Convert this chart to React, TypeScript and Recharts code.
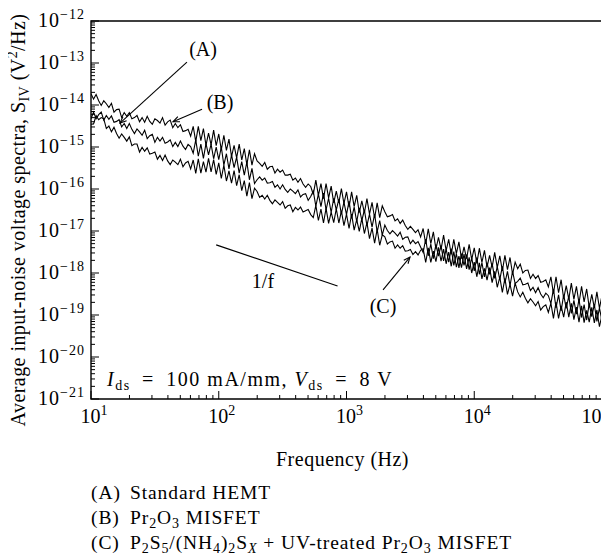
import { LineChart, Line, XAxis, YAxis, ReferenceArea, ReferenceLine, ReferenceDot } from 'recharts';

// log10 of frequency (Hz)
const freqLog = [
  1.0, 1.02, 1.04, 1.06, 1.08, 1.1, 1.12, 1.14, 1.16, 1.18,
  1.2, 1.22, 1.24, 1.26, 1.28, 1.3, 1.32, 1.34, 1.36, 1.38,
  1.4, 1.42, 1.44, 1.46, 1.48, 1.5, 1.52, 1.54, 1.56, 1.58,
  1.6, 1.62, 1.64, 1.66, 1.68, 1.7, 1.72, 1.74, 1.76, 1.78,
  1.8, 1.82, 1.84, 1.86, 1.88, 1.9, 1.92, 1.94, 1.96, 1.98,
  2.0, 2.02, 2.04, 2.06, 2.08, 2.1, 2.12, 2.14, 2.16, 2.18,
  2.2, 2.22, 2.24, 2.26, 2.28, 2.3, 2.32, 2.34, 2.36, 2.38,
  2.4, 2.42, 2.44, 2.46, 2.48, 2.5, 2.52, 2.54, 2.56, 2.58,
  2.6, 2.62, 2.64, 2.66, 2.68, 2.7, 2.72, 2.74, 2.76, 2.78,
  2.8, 2.82, 2.84, 2.86, 2.88, 2.9, 2.92, 2.94, 2.96, 2.98,
  3.0, 3.02, 3.04, 3.06, 3.08, 3.1, 3.12, 3.14, 3.16, 3.18,
  3.2, 3.22, 3.24, 3.26, 3.28, 3.3, 3.32, 3.34, 3.36, 3.38,
  3.4, 3.42, 3.44, 3.46, 3.48, 3.5, 3.52, 3.54, 3.56, 3.58,
  3.6, 3.62, 3.64, 3.66, 3.68, 3.7, 3.72, 3.74, 3.76, 3.78,
  3.8, 3.82, 3.84, 3.86, 3.88, 3.9, 3.92, 3.94, 3.96, 3.98,
  4.0, 4.02, 4.04, 4.06, 4.08, 4.1, 4.12, 4.14, 4.16, 4.18,
  4.2, 4.22, 4.24, 4.26, 4.28, 4.3, 4.32, 4.34, 4.36, 4.38,
  4.4, 4.42, 4.44, 4.46, 4.48, 4.5, 4.52, 4.54, 4.56, 4.58,
  4.6, 4.62, 4.64, 4.66, 4.68, 4.7, 4.72, 4.74, 4.76, 4.78,
  4.8, 4.82, 4.84, 4.86, 4.88, 4.9, 4.92, 4.94, 4.96, 4.98,
  5.0,
];

// log10 of S_IV (V^2/Hz), (A) Standard HEMT
const seriesA = [
  -14.33, -14.17, -14.33, -14.23, -14.17, -14.36, -14.25, -14.34, -14.26, -14.41,
  -14.39, -14.35, -14.52, -14.44, -14.56, -14.44, -14.58, -14.68, -14.57, -14.64,
  -14.72, -14.6, -14.8, -14.73, -14.7, -14.89, -14.77, -14.86, -14.77, -14.91,
  -14.88, -14.83, -14.99, -14.89, -14.99, -14.86, -14.98, -15.06, -14.94, -14.99,
  -15.15, -14.83, -15.22, -14.93, -15.27, -14.92, -15.19, -14.93, -15.28, -15.0,
  -15.3, -15.0, -15.43, -15.16, -15.52, -15.19, -15.49, -15.24, -15.62, -15.35,
  -15.67, -15.36, -15.78, -15.51, -15.87, -15.78, -15.71, -15.79, -15.74, -15.86,
  -15.85, -15.82, -15.96, -15.9, -16.0, -15.9, -16.01, -16.08, -16.0, -16.05,
  -16.11, -16.02, -16.19, -16.13, -16.11, -16.27, -16.18, -16.05, -16.41, -16.12,
  -16.42, -16.1, -16.5, -16.22, -16.56, -16.22, -16.5, -16.24, -16.6, -16.31,
  -16.61, -16.29, -16.7, -16.43, -16.78, -16.45, -16.75, -16.5, -16.87, -16.6,
  -16.91, -16.6, -17.02, -16.75, -17.1, -16.86, -16.99, -17.07, -16.99, -17.05,
  -17.12, -17.03, -17.2, -17.15, -17.14, -17.3, -17.22, -17.3, -17.25, -17.38,
  -17.51, -17.19, -17.59, -17.31, -17.66, -17.32, -17.6, -17.34, -17.71, -17.43,
  -17.74, -17.42, -17.82, -17.54, -17.88, -17.54, -17.82, -17.56, -17.92, -17.64,
  -17.95, -17.63, -18.03, -17.75, -18.09, -17.75, -18.03, -17.77, -18.13, -17.85,
  -18.16, -17.84, -18.24, -17.96, -18.3, -17.96, -18.25, -18.2, -18.12, -18.28,
  -18.27, -18.24, -18.42, -18.34, -18.47, -18.35, -18.5, -18.59, -18.48, -18.54,
  -18.73, -18.38, -18.83, -18.52, -18.9, -18.52, -18.84, -18.55, -18.96, -18.65,
  -18.98, -18.62, -19.06, -18.75, -19.12, -18.73, -19.04, -18.75, -19.15, -18.83,
  -19.15,
];

// (B) Pr2O3 MISFET
const seriesB = [
  -13.73, -13.86, -13.75, -13.9, -14.01, -13.9, -13.97, -14.06, -13.96, -14.17,
  -14.11, -14.1, -14.3, -14.18, -14.27, -14.18, -14.33, -14.3, -14.25, -14.4,
  -14.3, -14.41, -14.27, -14.39, -14.46, -14.33, -14.37, -14.43, -14.3, -14.48,
  -14.4, -14.36, -14.54, -14.44, -14.54, -14.47, -14.63, -14.61, -14.58, -14.74,
  -14.51, -14.87, -14.51, -14.85, -14.56, -14.96, -14.67, -14.95, -14.6, -14.97,
  -14.69, -15.07, -14.72, -15.08, -14.81, -15.23, -14.96, -15.26, -14.93, -15.31,
  -15.04, -15.42, -15.07, -15.43, -15.16, -15.33, -15.39, -15.46, -15.37, -15.53,
  -15.47, -15.46, -15.62, -15.53, -15.6, -15.55, -15.67, -15.67, -15.65, -15.79,
  -15.74, -15.84, -15.75, -15.88, -15.96, -15.88, -15.94, -16.13, -15.79, -16.15,
  -15.87, -16.23, -15.87, -16.21, -15.93, -16.33, -16.05, -16.33, -15.99, -16.35,
  -16.07, -16.43, -16.07, -16.42, -16.15, -16.56, -16.28, -16.57, -16.23, -16.6,
  -16.32, -16.69, -16.33, -16.68, -16.4, -16.54, -16.66, -16.64, -16.61, -16.76,
  -16.71, -16.82, -16.74, -16.87, -16.96, -16.89, -16.96, -17.04, -16.97, -17.14,
  -16.94, -17.31, -16.95, -17.3, -17.02, -17.43, -17.15, -17.44, -17.1, -17.47,
  -17.2, -17.56, -17.2, -17.54, -17.26, -17.66, -17.38, -17.66, -17.32, -17.68,
  -17.4, -17.77, -17.41, -17.75, -17.46, -17.86, -17.58, -17.86, -17.51, -17.87,
  -17.59, -17.95, -17.58, -17.92, -17.63, -18.03, -17.74, -17.9, -17.79, -18.0,
  -17.94, -17.93, -18.13, -18.03, -18.13, -18.06, -18.22, -18.2, -18.16, -18.33,
  -18.09, -18.49, -18.09, -18.47, -18.16, -18.61, -18.3, -18.62, -18.24, -18.63,
  -18.32, -18.72, -18.32, -18.69, -18.38, -18.82, -18.51, -18.83, -18.45, -18.84,
  -18.53,
];

// (C) P2S5/(NH4)2Sx + UV-treated Pr2O3 MISFET
const seriesC = [
  -14.46, -14.45, -14.25, -14.35, -14.3, -14.33, -14.56, -14.5, -14.64, -14.53,
  -14.68, -14.79, -14.69, -14.77, -14.86, -14.76, -14.97, -14.93, -14.93, -15.12,
  -15.01, -15.1, -15.02, -15.17, -15.15, -15.12, -15.29, -15.2, -15.32, -15.19,
  -15.33, -15.42, -15.31, -15.36, -15.42, -15.29, -15.47, -15.38, -15.34, -15.52,
  -15.31, -15.63, -15.28, -15.62, -15.35, -15.6, -15.27, -15.59, -15.3, -15.65,
  -15.38, -15.75, -15.43, -15.81, -15.57, -15.86, -15.56, -15.92, -15.66, -16.04,
  -15.8, -16.17, -15.85, -16.23, -15.98, -16.06, -16.2, -16.15, -16.24, -16.15,
  -16.27, -16.35, -16.26, -16.32, -16.38, -16.3, -16.46, -16.4, -16.38, -16.54,
  -16.44, -16.5, -16.43, -16.55, -16.52, -16.49, -16.61, -16.68, -16.39, -16.75,
  -16.48, -16.81, -16.46, -16.82, -16.55, -16.8, -16.47, -16.81, -16.52, -16.87,
  -16.6, -16.94, -16.6, -16.98, -16.73, -17.01, -16.7, -17.06, -16.8, -17.18,
  -16.93, -17.29, -16.96, -17.34, -17.09, -17.14, -17.31, -17.26, -17.24, -17.41,
  -17.33, -17.41, -17.35, -17.48, -17.47, -17.44, -17.56, -17.49, -17.57, -17.46,
  -17.42, -17.75, -17.4, -17.75, -17.48, -17.73, -17.39, -17.72, -17.43, -17.78,
  -17.5, -17.84, -17.49, -17.86, -17.6, -17.87, -17.55, -17.9, -17.63, -18.0,
  -17.74, -18.09, -17.76, -18.14, -17.89, -18.17, -17.87, -18.23, -17.96, -18.34,
  -18.1, -18.46, -18.13, -18.51, -18.27, -18.55, -18.24, -18.45, -18.57, -18.46,
  -18.6, -18.71, -18.61, -18.69, -18.78, -18.68, -18.88, -18.8, -18.76, -18.94,
  -18.72, -19.08, -18.69, -19.08, -18.78, -19.05, -18.69, -19.05, -18.72, -19.11,
  -18.81, -19.17, -18.78, -19.18, -18.89, -19.17, -18.82, -19.19, -18.88, -19.28,
  -18.99,
];

const xExponents = [1, 2, 3, 4, 5];
const yExponents = [-21, -20, -19, -18, -17, -16, -15, -14, -13, -12];

const data = freqLog.map((f, i) => ({ f, a: seriesA[i], b: seriesB[i], c: seriesC[i] }));

const minorSteps = [2, 3, 4, 5, 6, 7, 8, 9].map((k) => Math.log10(k));
const xTicks: number[] = [];
xExponents.forEach((e, i) => {
  xTicks.push(e);
  if (i < xExponents.length - 1) minorSteps.forEach((m) => xTicks.push(e + m));
});
const yTicks: number[] = [];
yExponents.forEach((e, i) => {
  yTicks.push(e);
  if (i < yExponents.length - 1) minorSteps.forEach((m) => yTicks.push(e + m));
});

const FONT = '"Liberation Serif", "Times New Roman", serif';
const isMajor = (v: number) => Math.abs(v - Math.round(v)) < 1e-6;
const fmt = (v: number) => String(Math.round(v)).replace('-', '\u2212');
const lastX = xExponents[xExponents.length - 1];

const XTick = (props: any) => {
  const { x, y, payload } = props;
  const v = payload.value;
  const major = isMajor(v);
  // the last label is pushed left a little, as in the original figure
  const dx = Math.round(v) === lastX ? -7 : 3;
  return (
    <g>
      <line x1={x} y1={y} x2={x} y2={y - (major ? 8 : 4)} stroke="#000" strokeWidth={1} />
      {major && (
        <text x={x + dx} y={y + 24} textAnchor="middle" fontFamily={FONT} fontSize={20} fill="#000">
          10<tspan dy={-8} fontSize={14}>{fmt(v)}</tspan>
        </text>
      )}
    </g>
  );
};

const YTick = (props: any) => {
  const { x, y, payload } = props;
  const v = payload.value;
  const major = isMajor(v);
  return (
    <g>
      <line x1={x} y1={y} x2={x + (major ? 8 : 4)} y2={y} stroke="#000" strokeWidth={1} />
      {major && (
        <text x={x - 6} y={y + 6} textAnchor="end" fontFamily={FONT} fontSize={20} letterSpacing={1} fill="#000">
          10<tspan dy={-8} fontSize={14}>{fmt(v)}</tspan>
        </text>
      )}
    </g>
  );
};

const arrowShape = (props: any) => {
  const { x1, y1, x2, y2 } = props;
  const ang = Math.atan2(y2 - y1, x2 - x1);
  const len = 7;
  const spread = 0.4;
  return (
    <g>
      <line x1={x1} y1={y1} x2={x2} y2={y2} stroke="#000" strokeWidth={1.1} />
      <polyline
        points={`${x2 - len * Math.cos(ang - spread)},${y2 - len * Math.sin(ang - spread)} ${x2},${y2} ${x2 - len * Math.cos(ang + spread)},${y2 - len * Math.sin(ang + spread)}`}
        fill="none"
        stroke="#000"
        strokeWidth={1.1}
      />
    </g>
  );
};

const textAt = (content: any, anchor: string = 'middle', spacing: number = 0) => (p: any) => (
  <text x={p.cx} y={p.cy + 6} textAnchor={anchor} fontFamily={FONT} fontSize={20} letterSpacing={spacing} fill="#000">
    {content}
  </text>
);

const YLabel = (p: any) => {
  const vb = p.viewBox;
  const cx = vb.x + 25;
  const cy = vb.y + vb.height / 2 + 10;
  return (
    <text x={cx} y={cy} transform={`rotate(-90, ${cx}, ${cy})`} textAnchor="middle" fontFamily={FONT} fontSize={20} letterSpacing={0.45} fill="#000">
      Average input-noise voltage spectra, S<tspan dy={4} fontSize={14}>IV</tspan>
      <tspan dy={-4}> (V</tspan>
      <tspan dy={-8} fontSize={14}>2</tspan>
      <tspan dy={8}>/Hz)</tspan>
    </text>
  );
};

const XLabel = (p: any) => {
  const vb = p.viewBox;
  return (
    <text x={vb.x + vb.width / 2 - 4} y={vb.y + 67} textAnchor="middle" fontFamily={FONT} fontSize={20} letterSpacing={0.5} fill="#000">
      Frequency (Hz)
    </text>
  );
};

const conditionText = (
  <>
    <tspan fontStyle="italic">I</tspan>
    <tspan dy={4} fontSize={14}>ds</tspan>
    <tspan dy={-4}>{'\u2002=\u2002100 mA/mm, '}</tspan>
    <tspan fontStyle="italic">V</tspan>
    <tspan dy={4} fontSize={14}>ds</tspan>
    <tspan dy={-4}>{'\u2002=\u20028 V'}</tspan>
  </>
);

const sub = { fontSize: '0.72em', verticalAlign: '-0.3em', lineHeight: 0 } as const;
const tag = { display: 'inline-block', width: 39 } as const;

export default function App() {
  return (
    <div style={{ position: 'relative', width: 609, height: 552, marginLeft: -8, fontFamily: FONT }}>
      <LineChart width={609} height={472} data={data} margin={{ top: 13, right: 7, bottom: 21, left: 0 }}>
        <XAxis
          dataKey="f"
          type="number"
          domain={[1, 5]}
          ticks={xTicks}
          interval={0}
          height={60}
          tickSize={0}
          tickMargin={0}
          axisLine={false}
          tickLine={false}
          tick={XTick}
          allowDataOverflow
          label={{ content: XLabel }}
        />
        <YAxis
          type="number"
          domain={[-21, -12]}
          ticks={yTicks}
          interval={0}
          width={91}
          tickSize={0}
          tickMargin={0}
          axisLine={false}
          tickLine={false}
          tick={YTick}
          allowDataOverflow
          label={{ content: YLabel }}
        />
        <ReferenceArea x1={1} x2={5} y1={-21} y2={-12} fill="none" stroke="#000" strokeWidth={1.4} fillOpacity={0} />
        <Line dataKey="a" stroke="#000" strokeWidth={1.1} dot={false} isAnimationActive={false} type="linear" />
        <Line dataKey="b" stroke="#000" strokeWidth={1.1} dot={false} isAnimationActive={false} type="linear" />
        <Line dataKey="c" stroke="#000" strokeWidth={1.1} dot={false} isAnimationActive={false} type="linear" />
        <ReferenceLine segment={[{ x: 1.98, y: -17.33 }, { x: 2.93, y: -18.31 }]} stroke="#000" strokeWidth={1.2} ifOverflow="visible" />
        <ReferenceLine segment={[{ x: 1.751, y: -12.98 }, { x: 1.227, y: -14.43 }]} shape={arrowShape} ifOverflow="visible" />
        <ReferenceLine segment={[{ x: 1.869, y: -14.1 }, { x: 1.642, y: -14.4 }]} shape={arrowShape} ifOverflow="visible" />
        <ReferenceLine segment={[{ x: 3.286, y: -18.4 }, { x: 3.497, y: -17.62 }]} shape={arrowShape} ifOverflow="visible" />
        <ReferenceDot x={1.877} y={-12.69} r={0} shape={textAt('(A)')} ifOverflow="visible" />
        <ReferenceDot x={2.01} y={-13.95} r={0} shape={textAt('(B)')} ifOverflow="visible" />
        <ReferenceDot x={3.286} y={-18.81} r={0} shape={textAt('(C)')} ifOverflow="visible" />
        <ReferenceDot x={2.346} y={-18.21} r={0} shape={textAt('1/f')} ifOverflow="visible" />
        <ReferenceDot x={1.125} y={-20.55} r={0} shape={textAt(conditionText, 'start', 1.5)} ifOverflow="visible" />
      </LineChart>
      <div style={{ position: 'absolute', left: 91, top: 472, fontSize: 19.5, letterSpacing: 0.9, lineHeight: '25px', color: '#000', whiteSpace: 'nowrap' }}>
        <div><span style={tag}>(A)</span>Standard HEMT</div>
        <div><span style={tag}>(B)</span>Pr<sub style={sub}>2</sub>O<sub style={sub}>3</sub> MISFET</div>
        <div>
          <span style={tag}>(C)</span>P<sub style={sub}>2</sub>S<sub style={sub}>5</sub>/(NH<sub style={sub}>4</sub>)<sub style={sub}>2</sub>S<sub style={sub}><i>X</i></sub> + UV-treated Pr<sub style={sub}>2</sub>O<sub style={sub}>3</sub> MISFET
        </div>
      </div>
    </div>
  );
}
